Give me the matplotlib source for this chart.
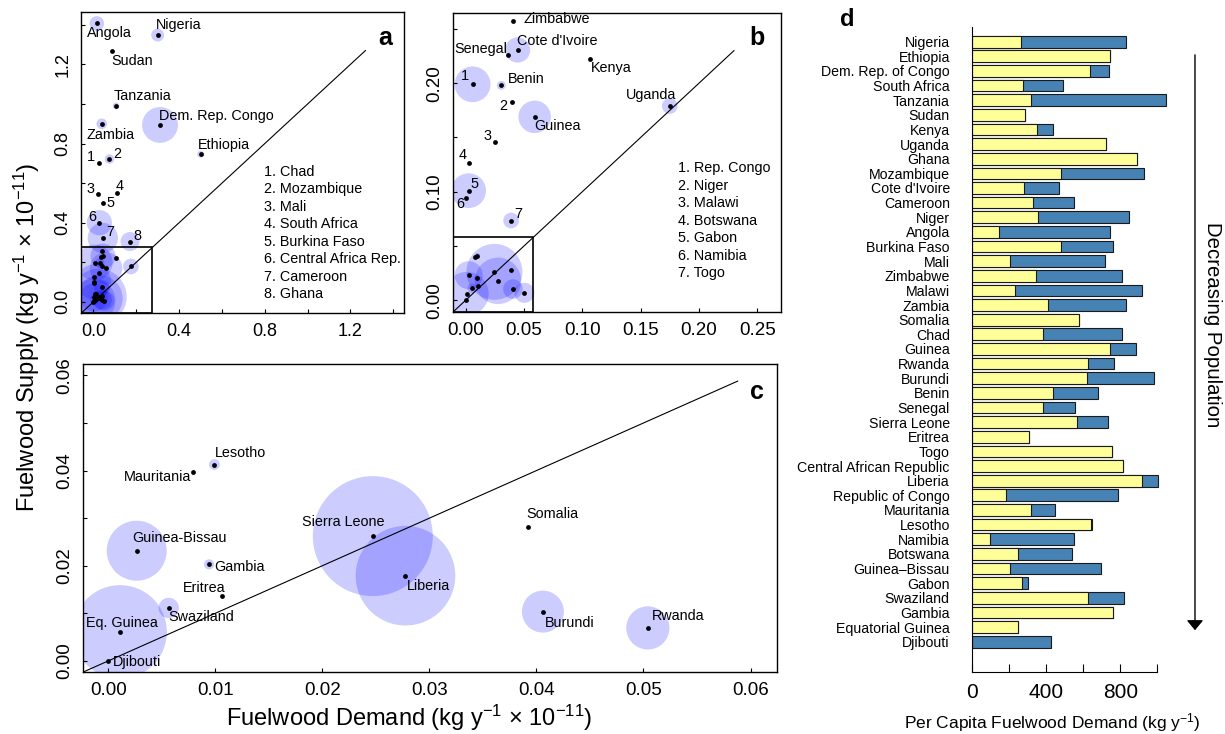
import numpy as np
import matplotlib
matplotlib.use('Agg')
import matplotlib.pyplot as plt
from matplotlib.patches import Rectangle

plt.rcParams['font.family'] = ['Liberation Sans', 'DejaVu Sans']
plt.rcParams['mathtext.fontset'] = 'custom'
plt.rcParams['mathtext.rm'] = 'Liberation Sans'
plt.rcParams['mathtext.it'] = 'Liberation Sans:italic'
plt.rcParams['mathtext.bf'] = 'Liberation Sans:bold'

# countries in order of decreasing population
countries = ['Nigeria', 'Ethiopia', 'Dem. Rep. of Congo', 'South Africa', 'Tanzania',
             'Sudan', 'Kenya', 'Uganda', 'Ghana', 'Mozambique', "Cote d'Ivoire",
             'Cameroon', 'Niger', 'Angola', 'Burkina Faso', 'Mali', 'Zimbabwe',
             'Malawi', 'Zambia', 'Somalia', 'Chad', 'Guinea', 'Rwanda', 'Burundi',
             'Benin', 'Senegal', 'Sierra Leone', 'Eritrea', 'Togo',
             'Central African Republic', 'Liberia', 'Republic of Congo', 'Mauritania',
             'Lesotho', 'Namibia', 'Botswana', 'Guinea\u2013Bissau', 'Gabon',
             'Swaziland', 'Gambia', 'Equatorial Guinea', 'Djibouti']

# fuelwood demand and supply (kg y-1 x 10^-11)
demand = [0.300, 0.500, 0.311, 0.109, 0.106, 0.086, 0.1063, 0.175, 0.171, 0.075,
          0.0446, 0.044, 0.0397, 0.016, 0.047, 0.020, 0.0406, 0.0254, 0.039, 0.03925,
          0.028, 0.0592, 0.05041, 0.0406, 0.0306, 0.036, 0.02471, 0.01063, 0.039,
          0.028, 0.02776, 0.006, 0.00794, 0.00991, 0.0006, 0.003, 0.00265, 0.0026,
          0.00564, 0.00941, 0.00109, 0.0]
supply = [1.348, 0.746, 0.894, 0.552, 0.990, 1.268, 0.222, 0.179, 0.305, 0.722,
          0.2306, 0.323, 0.183, 1.407, 0.498, 0.547, 0.257, 0.146, 0.900, 0.02818,
          0.702, 0.169, 0.00692, 0.01035, 0.198, 0.226, 0.02622, 0.01356, 0.0735,
          0.400, 0.0179, 0.199, 0.0396, 0.04126, 0.094, 0.1265, 0.02315, 0.101,
          0.01112, 0.02028, 0.00608, 0.0]
# relative bubble size (largest = 1)
bubble = [0.23, 0.12, 0.64, 0.0, 0.12, 0.0, 0.0, 0.28, 0.34, 0.17,
          0.45, 0.54, 0.0, 0.26, 0.0, 0.0, 0.0, 0.0, 0.19, 0.0,
          0.0, 0.58, 0.36, 0.35, 0.16, 0.0, 1.0, 0.0, 0.28,
          0.45, 0.83, 0.64, 0.0, 0.09, 0.0, 0.0, 0.5, 0.62,
          0.17, 0.085, 0.78, 0.0]

# per capita fuelwood demand (kg y-1): yellow part and total (blue)
per_cap_yellow = [262, 746, 635, 275, 318, 288, 351, 725, 892, 478, 280, 329, 354, 144,
                  478, 203, 347, 234, 408, 579, 383, 743, 627, 620, 437, 383, 566, 309,
                  755, 816, 915, 183, 318, 640, 95, 250, 203, 270, 624, 760, 248, 0]
per_cap_total = [832, 746, 742, 493, 1048, 288, 437, 725, 892, 926, 467, 552, 847, 744,
                 762, 717, 811, 917, 832, 579, 811, 885, 766, 985, 681, 557, 735, 309,
                 755, 816, 1005, 787, 448, 647, 552, 539, 696, 304, 820, 760, 248, 428]

legend_a = ['Chad', 'Mozambique', 'Mali', 'South Africa', 'Burkina Faso',
            'Central Africa Rep.', 'Cameroon', 'Ghana']
legend_b = ['Rep. Congo', 'Niger', 'Malawi', 'Botswana', 'Gabon', 'Namibia', 'Togo']

# label text and offset (pixels) for each panel
labels_a = {'Angola': ('Angola', 13, -10), 'Nigeria': ('Nigeria', 21, 10),
            'Sudan': ('Sudan', 20, -10), 'Tanzania': ('Tanzania', 26, 10),
            'Dem. Rep. of Congo': ('Dem. Rep. Congo', 56, 9),
            'Zambia': ('Zambia', 9, -11), 'Ethiopia': ('Ethiopia', 23, 9),
            'Chad': ('1', -8, 6), 'Mozambique': ('2', 8, 5), 'Mali': ('3', -7, 5),
            'South Africa': ('4', 3, 7), 'Burkina Faso': ('5', 7, 0),
            'Central African Republic': ('6', -7, 6), 'Cameroon': ('7', 7, 6),
            'Ghana': ('8', 7, 6)}
labels_b = {'Zimbabwe': ('Zimbabwe', 44, 2), "Cote d'Ivoire": ("Cote d'Ivoire", 40, 9),
            'Senegal': ('Senegal', -27, 6), 'Kenya': ('Kenya', 22, -9),
            'Republic of Congo': ('1', -8, 8), 'Benin': ('Benin', 25, 6),
            'Niger': ('2', -9, -4), 'Uganda': ('Uganda', -19, 11),
            'Guinea': ('Guinea', 23, -9), 'Malawi': ('3', -8, 6),
            'Botswana': ('4', -6, 8), 'Gabon': ('5', 6, 7), 'Namibia': ('6', -6, -6),
            'Togo': ('7', 7, 7)}
labels_c = {'Lesotho': ('Lesotho', 26, 12), 'Mauritania': ('Mauritania', -36, -5),
            'Guinea\u2013Bissau': ('Guinea-Bissau', 43, 13), 'Gambia': ('Gambia', 30, -3),
            'Eritrea': ('Eritrea', -18, 8), 'Swaziland': ('Swaziland', 32, -9),
            'Equatorial Guinea': ('Eq. Guinea', 2, 9), 'Djibouti': ('Djibouti', 29, -1),
            'Sierra Leone': ('Sierra Leone', -30, 14), 'Liberia': ('Liberia', 23, -10),
            'Somalia': ('Somalia', 24, 13), 'Burundi': ('Burundi', 27, -11),
            'Rwanda': ('Rwanda', 30, 12)}

demand = np.array(demand)
supply = np.array(supply)
bubble = np.array(bubble)

fig = plt.figure(figsize=(12.25, 7.34), dpi=100)
ax_a = fig.add_axes([0.0661, 0.5736, 0.2637, 0.4101])
ax_b = fig.add_axes([0.3698, 0.5749, 0.2678, 0.4074])
ax_c = fig.add_axes([0.0675, 0.0841, 0.5670, 0.4200])
ax_d = fig.add_axes([0.7935, 0.0845, 0.1633, 0.8787])

bub_col = (0.0, 0.0, 1.0, 0.2)


def scatter_panel(ax, xlim, ylim, r_max, line_end, box, labels, tick_step, fmt, fs):
    ax.set_xlim(xlim)
    ax.set_ylim(ylim)
    s = (2 * r_max * 0.72 * bubble) ** 2
    ax.scatter(demand, supply, s=s, color=bub_col, linewidths=0, zorder=1)
    ax.scatter(demand, supply, s=12, color='k', linewidths=0, zorder=3)
    lo = min(xlim[0], ylim[0])
    ax.plot([lo, line_end], [lo, line_end], color='k', lw=0.8, zorder=2)
    if box is not None:
        ax.add_patch(Rectangle((xlim[0], ylim[0]), box - xlim[0], box - ylim[0],
                               fill=False, ec='k', lw=1.2, zorder=2))
    for name, (txt, dx, dy) in labels.items():
        i = countries.index(name)
        ax.annotate(txt, (demand[i], supply[i]), xytext=(dx, dy),
                    textcoords='offset pixels', ha='center', va='center',
                    fontsize=10.4, zorder=4)
    xt = np.arange(0, xlim[1], tick_step[0])
    yt = np.arange(0, ylim[1], tick_step[1])
    ax.set_xticks(xt)
    ax.set_xticklabels([fmt % v if i % tick_step[2] == 0 else '' for i, v in enumerate(xt)],
                       fontsize=fs)
    ax.set_yticks(yt)
    ax.set_yticklabels([fmt % v if i % 2 == 0 else '' for i, v in enumerate(yt)],
                       fontsize=fs, rotation=90, va='center')
    ax.tick_params(direction='in', length=3, width=0.8, pad=7)
    for sp in ax.spines.values():
        sp.set_linewidth(1.0)


scatter_panel(ax_a, (-0.058, 1.45), (-0.056, 1.465), 28, 1.27, 0.275, labels_a,
              (0.2, 0.2, 2), '%.1f', 13)
scatter_panel(ax_b, (-0.0108, 0.2704), (-0.0108, 0.2647), 28, 0.23, 0.058, labels_b,
              (0.05, 0.05, 1), '%.2f', 13.5)
scatter_panel(ax_c, (-0.0024, 0.0625), (-0.0024, 0.0624), 60, 0.0588, None, labels_c,
              (0.01, 0.01, 1), '%.2f', 13.5)

for i, name in enumerate(legend_a):
    ax_a.text(0.5666, 0.4694 - i * 0.0581, '%d. %s' % (i + 1, name),
              transform=ax_a.transAxes, fontsize=10.4, va='center')
for i, name in enumerate(legend_b):
    ax_b.text(0.685, 0.4806 - i * 0.0585, '%d. %s' % (i + 1, name),
              transform=ax_b.transAxes, fontsize=10.4, va='center')

ax_a.text(0.941, 0.914, 'a', transform=ax_a.transAxes, fontsize=18, fontweight='bold',
          ha='center', va='center')
ax_b.text(0.927, 0.916, 'b', transform=ax_b.transAxes, fontsize=18, fontweight='bold',
          ha='center', va='center')
ax_c.text(0.971, 0.91, 'c', transform=ax_c.transAxes, fontsize=18, fontweight='bold',
          ha='center', va='center')
fig.text(0.6914, 0.9728, 'd', fontsize=17, fontweight='bold', ha='center', va='center')

fig.text(0.022, 0.541, r'Fuelwood Supply (kg y$^{-1}$ $\times$ 10$^{-11}$)', rotation=90,
         fontsize=17, ha='center', va='center')
fig.text(0.334, 0.0218, r'Fuelwood Demand (kg y$^{-1}$ $\times$ 10$^{-11}$)',
         fontsize=17, ha='center', va='center')

# panel d
y = -np.arange(len(countries))
ax_d.barh(y, per_cap_total, height=0.8, color='#4682B4', edgecolor='#1a1a1a', lw=0.8)
ax_d.barh(y, per_cap_yellow, height=0.8, color='#FFFF99', edgecolor='#1a1a1a', lw=0.8)
ax_d.set_ylim(-43.07, 1.0)
ax_d.set_xlim(0, 1080)
ax_d.set_yticks(y)
ax_d.set_yticklabels(countries, fontsize=10.2)
ax_d.tick_params(axis='y', length=0, pad=16)
ax_d.set_xticks(np.arange(0, 1001, 200))
ax_d.set_xticklabels(['0', '', '400', '', '800', ''], fontsize=15)
ax_d.tick_params(axis='x', direction='in', length=5.5, width=0.8, pad=8)
ax_d.spines['top'].set_visible(False)
ax_d.spines['right'].set_visible(False)
ax_d.spines['bottom'].set_bounds(0, 1000)
fig.text(0.8588, 0.0154, r'Per Capita Fuelwood Demand (kg y$^{-1}$)', fontsize=12.5,
         ha='center', va='center')

fig.patches.append(matplotlib.patches.FancyArrowPatch(
    (0.9755, 0.929), (0.9755, 0.1376), transform=fig.transFigure,
    arrowstyle='-|>,head_length=0.6,head_width=0.5', mutation_scale=10,
    color='k', lw=1.0))
fig.text(0.9894, 0.557, 'Decreasing Population', rotation=-90, fontsize=14.7,
         ha='center', va='center')

fig.savefig('out.png', dpi=100)
